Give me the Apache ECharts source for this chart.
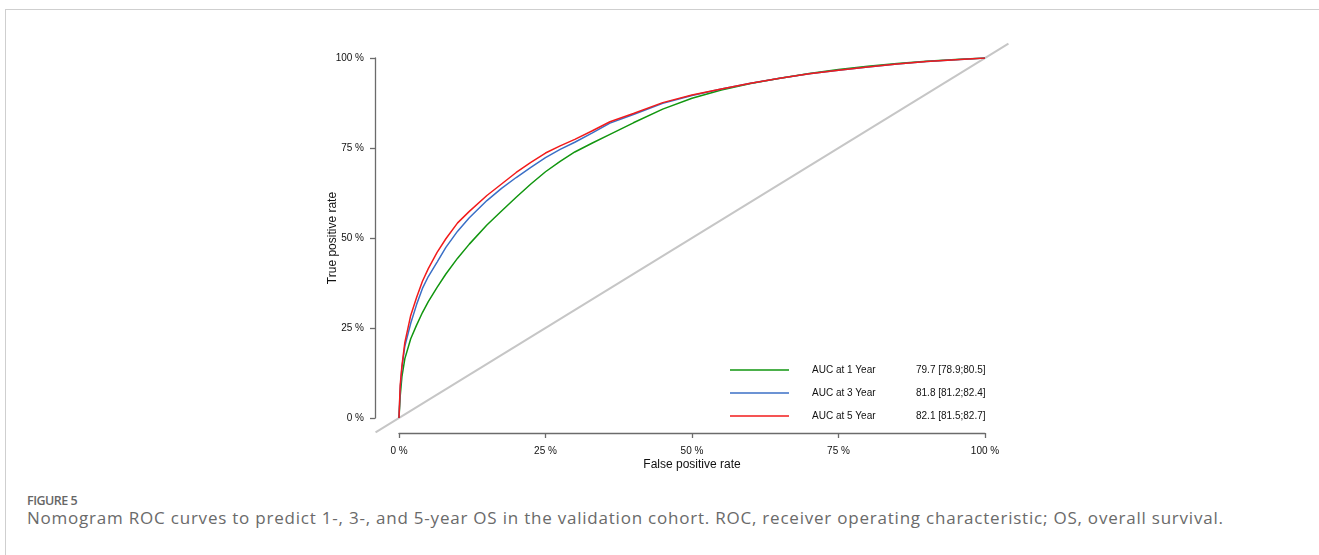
<!DOCTYPE html>
<html>
<head>
<meta charset="utf-8">
<script src="https://cdn.jsdelivr.net/npm/echarts@6/dist/echarts.min.js"></script>
<style>
  html, body { margin: 0; padding: 0; background: #fff; }
  #wrap { position: relative; width: 1319px; height: 555px; overflow: hidden; }
  #frame { position: absolute; left: 5px; top: 9px; right: -2px; bottom: -2px;
           border-top: 1px solid #cfcfcf; border-left: 1px solid #cfcfcf; }
  #chart { position: absolute; left: 0; top: 0; width: 1319px; height: 480px; }
  #fig { position: absolute; left: 27px; top: 492px; font-family: "Open Sans", sans-serif;
         font-weight: 600; font-size: 12.5px; color: #666; letter-spacing: -0.5px; }
  #cap { position: absolute; left: 27px; top: 506px; font-family: "Open Sans", sans-serif;
         font-size: 17px; color: #6a6a6a; white-space: nowrap; letter-spacing: 0.78px; }
</style>
</head>
<body>
<div id="wrap">
  <div id="frame"></div>
  <div id="chart"></div>
  <div id="fig">FIGURE 5</div>
  <div id="cap">Nomogram ROC curves to predict 1-, 3-, and 5-year OS in the validation cohort. ROC, receiver operating characteristic; OS, overall survival.</div>
</div>
<script>
// False positive rate (%) sample points
const fpr = [0, 0.2, 0.5, 1, 2, 3, 4, 5, 6.5, 8, 10, 12, 15, 17.5, 20, 22.5, 25, 27.5, 30, 33, 36, 40, 45, 50, 55, 60, 65, 70, 75, 80, 85, 90, 95, 100];
// True positive rate (%) for each time point
const tpr1 = [0, 6, 11.5, 16.5, 22, 25.8, 29.3, 32.3, 36.3, 40, 44.4, 48.3, 53.6, 57.5, 61.3, 65.0, 68.4, 71.3, 73.9, 76.4, 78.8, 82, 85.8, 88.8, 91.1, 92.9, 94.4, 95.7, 96.8, 97.7, 98.5, 99.1, 99.6, 100];
const tpr3 = [0, 8, 14, 20, 26.3, 31.5, 36, 39.3, 43.3, 47.4, 51.9, 55.6, 60.4, 63.8, 66.8, 69.6, 72.3, 74.6, 76.6, 79.2, 81.9, 84.3, 87.4, 89.6, 91.4, 93.0, 94.4, 95.6, 96.6, 97.5, 98.3, 99.0, 99.5, 100];
const tpr5 = [0, 9, 14.5, 21, 28.5, 33.5, 38, 41.5, 46, 49.8, 54.2, 57.4, 61.8, 65, 68.2, 71, 73.6, 75.6, 77.4, 79.8, 82.3, 84.6, 87.6, 89.7, 91.4, 93.0, 94.4, 95.6, 96.6, 97.5, 98.3, 99.0, 99.5, 100];
// Reference diagonal (chance line), drawn a little past both ends
const diagX = [-4, 104];
const diagY = [-4, 104];
const seriesNames = ['AUC at 1 Year', 'AUC at 3 Year', 'AUC at 5 Year'];
const aucText = ['79.7 [78.9;80.5]', '81.8 [81.2;82.4]', '82.1 [81.5;82.7]'];
const colors = ['#11960f', '#3b6fc6', '#f21b1b'];

const zip = (xs, ys) => xs.map((x, i) => [x, ys[i]]);
const font = '"Liberation Sans", Arial, sans-serif';

const chart = echarts.init(document.getElementById('chart'), null, { renderer: 'canvas' });

// main plot box: 0..100 % maps to px 399..985 (x) and 418..58 (y)
const G = { left: 399, top: 58, width: 586, height: 360 };
const pxX = G.width / 100, pxY = G.height / 100;

const axisCommon = {
  type: 'value', min: 0, max: 100, interval: 25,
  splitLine: { show: false },
  axisLine: { show: true, onZero: false, lineStyle: { color: '#6b6b6b', width: 1.3 } },
  axisTick: { show: true, length: 5, lineStyle: { color: '#6b6b6b', width: 1.3 } },
  axisLabel: { color: '#111', fontFamily: font, fontSize: 10, formatter: v => v + ' %' },
  nameLocation: 'middle',
  nameMoveOverlap: false,
  nameTextStyle: { color: '#111', fontFamily: font, fontSize: 12 }
};

const hiddenAxis = (lo, hi, idx) => ({
  type: 'value', min: lo, max: hi, gridIndex: idx, show: false,
  axisLine: { show: false }, axisTick: { show: false }, axisLabel: { show: false }, splitLine: { show: false }
});

const lines = [tpr1, tpr3, tpr5].map((t, i) => ({
  name: seriesNames[i],
  type: 'line',
  xAxisIndex: 0, yAxisIndex: 0,
  data: zip(fpr, t),
  showSymbol: false,
  lineStyle: { color: colors[i], width: 1.5 },
  itemStyle: { color: colors[i] },
  z: 3 + i
}));

chart.setOption({
  animation: false,
  grid: [
    Object.assign({ containLabel: false }, G),
    { containLabel: false,
      left: G.left + diagX[0] * pxX, width: (diagX[1] - diagX[0]) * pxX,
      top: G.top - (diagY[1] - 100) * pxY, height: (diagY[1] - diagY[0]) * pxY }
  ],
  xAxis: [
    Object.assign({}, axisCommon, {
      gridIndex: 0, offset: 15, name: 'False positive rate', nameGap: 26,
      axisLabel: Object.assign({}, axisCommon.axisLabel, { margin: 13 })
    }),
    hiddenAxis(diagX[0], diagX[1], 1)
  ],
  yAxis: [
    Object.assign({}, axisCommon, {
      gridIndex: 0, offset: 24, name: 'True positive rate', nameGap: 36,
      axisLabel: Object.assign({}, axisCommon.axisLabel, { margin: 11 })
    }),
    hiddenAxis(diagY[0], diagY[1], 1)
  ],
  legend: {
    orient: 'vertical', left: 725, top: 360, itemGap: 13,
    icon: 'rect', itemWidth: 59, itemHeight: 1.5,
    data: seriesNames,
    formatter: name => {
      const i = seriesNames.indexOf(name);
      return '{a|' + name + '}{b|' + aucText[i] + '}';
    },
    textStyle: {
      fontFamily: font, fontSize: 10, color: '#111',
      rich: {
        a: { fontFamily: font, fontSize: 10, color: '#111', width: 104, padding: [0, 0, 0, 18] },
        b: { fontFamily: font, fontSize: 10, color: '#111' }
      }
    }
  },
  series: [{
    name: 'diag', type: 'line', xAxisIndex: 1, yAxisIndex: 1,
    data: zip(diagX, diagY), showSymbol: false, silent: true,
    lineStyle: { color: '#c6c6c6', width: 2 }, z: 1
  }].concat(lines)
});
</script>
</body>
</html>
